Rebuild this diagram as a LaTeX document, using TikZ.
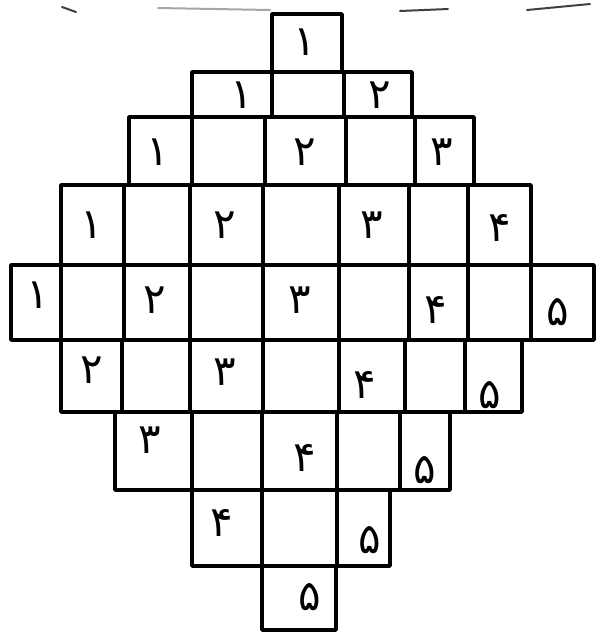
\documentclass[tikz,border=0pt]{standalone}
\usepackage{fontspec}
\newfontfamily\fadigits[Script=Arabic]{DejaVu Sans}
\begin{document}
\begin{tikzpicture}[x=1pt,y=-1pt,
  gridline/.style={line width=3.4pt,line join=round,line cap=round},
  digit/.style={font=\fadigits\fontsize{42}{42}\selectfont,inner sep=0pt},
  scanmark/.style={line width=2pt,black!75,line cap=round}]
\useasboundingbox (0,0) rectangle (597,641);
% faint marks at the top of the page
\draw[scanmark] (62,7) -- (76,12);
\draw[scanmark,black!35] (158,8) -- (270,10);
\draw[scanmark] (400,11) -- (448,9);
\draw[scanmark] (527,10) -- (590,4);
% rows of cells: outline and inner walls
\draw[gridline] (272,14) rectangle (342,72);
\draw[gridline] (192,72) rectangle (412,117);
\foreach \x in {272,344} \draw[gridline] (\x,72) -- (\x,117);
\draw[gridline] (129,117) rectangle (474,185);
\foreach \x in {192,265,346,415} \draw[gridline] (\x,117) -- (\x,185);
\draw[gridline] (61,185) rectangle (531,265);
\foreach \x in {124,190,263,339,409,468} \draw[gridline] (\x,185) -- (\x,265);
\draw[gridline] (11,265) rectangle (594,340);
\foreach \x in {61,124,190,263,339,409,468,531} \draw[gridline] (\x,265) -- (\x,340);
\draw[gridline] (61,340) rectangle (522,412);
\foreach \x in {122,190,263,339,405,465} \draw[gridline] (\x,340) -- (\x,412);
\draw[gridline] (115,412) rectangle (450,490);
\foreach \x in {192,262,337,400} \draw[gridline] (\x,412) -- (\x,490);
\draw[gridline] (192,490) rectangle (390,566);
\foreach \x in {262,337} \draw[gridline] (\x,490) -- (\x,566);
\draw[gridline] (262,566) rectangle (336,630);
% digits
\node[digit] (r1a) at (305,42) {۱};
\node[digit] (r2a) at (242,95) {۱};
\node[digit] (r2b) at (380,95) {۲};
\node[digit] (r3a) at (158,152) {۱};
\node[digit] (r3b) at (305,152) {۲};
\node[digit] (r3c) at (442,152) {۳};
\node[digit] (r4a) at (92,225) {۱};
\node[digit] (r4b) at (225,225) {۲};
\node[digit] (r4c) at (372,225) {۳};
\node[digit] (r4d) at (500,228) {۴};
\node[digit] (r5a) at (38,295) {۱};
\node[digit] (r5b) at (155,300) {۲};
\node[digit] (r5c) at (300,300) {۳};
\node[digit] (r5d) at (436,310) {۴};
\node[digit] (r5e) at (558,312) {۵};
\node[digit] (r6a) at (92,370) {۲};
\node[digit] (r6b) at (225,372) {۳};
\node[digit] (r6c) at (365,385) {۴};
\node[digit] (r6d) at (490,395) {۵};
\node[digit] (r7a) at (150,440) {۳};
\node[digit] (r7b) at (305,458) {۴};
\node[digit] (r7c) at (425,470) {۵};
\node[digit] (r8a) at (222,523) {۴};
\node[digit] (r8b) at (370,540) {۵};
\node[digit] (r9a) at (310,597) {۵};
\end{tikzpicture}
\end{document}
